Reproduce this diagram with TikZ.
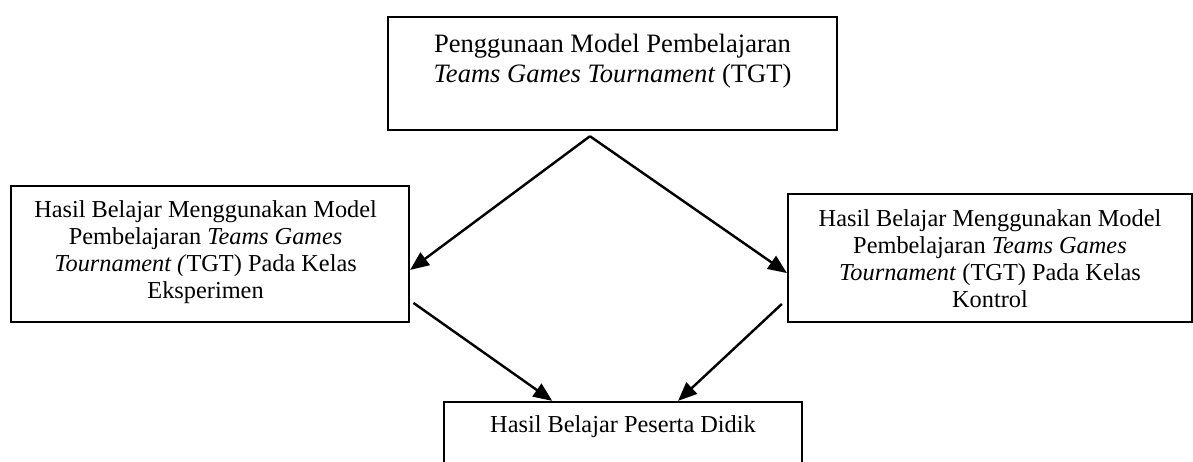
\documentclass[tikz,border=0pt]{standalone}
\usepackage{fontspec}
\setmainfont{Liberation Serif}
\usetikzlibrary{positioning, arrows.meta}

\begin{document}
\begin{tikzpicture}[x=0.452pt, y=-0.452pt,
    box/.style={draw, line width=1pt, inner sep=0pt},
    caption/.style={inner sep=0pt, align=center, font=\fontsize{11}{12.2}\selectfont},
    flow/.style={-{Triangle[length=8.5pt, width=7pt]}, line width=1.1pt}]

    % Clip to the page
    \clip (0,0) rectangle (1193,462);

    % Draw the boxes
    \node[box, minimum width=202.9pt, minimum height=51.1pt] (tgt) at (612.5,73.5) {};
    \node[box, minimum width=179.9pt, minimum height=61.5pt] (exp) at (210,254) {};
    \node[box, minimum width=182.6pt, minimum height=57.9pt] (ctl) at (990,258) {};
    \node[box, minimum width=161.8pt, minimum height=35.3pt] (hasil) at (623,441) {};

    % Texts in the boxes
    \node[caption, font=\fontsize{12}{13.6}\selectfont, below=8pt of tgt.north] (tgtText)
        {Penggunaan Model Pembelajaran\\ \textit{Teams Games Tournament} (TGT)};
    \node[caption, below=7pt of exp.north, xshift=-2pt] (expText)
        {Hasil Belajar Menggunakan Model\\ Pembelajaran \textit{Teams Games}\\ \textit{Tournament (}TGT) Pada Kelas\\ Eksperimen};
    \node[caption, below=7.4pt of ctl.north] (ctlText)
        {Hasil Belajar Menggunakan Model\\ Pembelajaran \textit{Teams Games}\\ \textit{Tournament} (TGT) Pada Kelas\\ Kontrol};
    \node[caption, below=6.5pt of hasil.north] (hasilText) {Hasil Belajar Peserta Didik};

    % Split point below the top box
    \coordinate (split) at ([xshift=-10.2pt, yshift=-2.3pt]tgt.south);
    \draw[flow] (split) -- ([yshift=-7.2pt]exp.east);
    \draw[flow] (split) -- ([yshift=-6.8pt]ctl.west);

    % Join into the result box
    \coordinate (expOut) at ([xshift=1.5pt, yshift=-22.1pt]exp.east);
    \coordinate (ctlOut) at ([xshift=-2.3pt, yshift=-20.8pt]ctl.west);
    \draw[flow] (expOut) -- ([xshift=-32pt]hasil.north);
    \draw[flow] (ctlOut) -- ([xshift=24.9pt]hasil.north);

\end{tikzpicture}
\end{document}
